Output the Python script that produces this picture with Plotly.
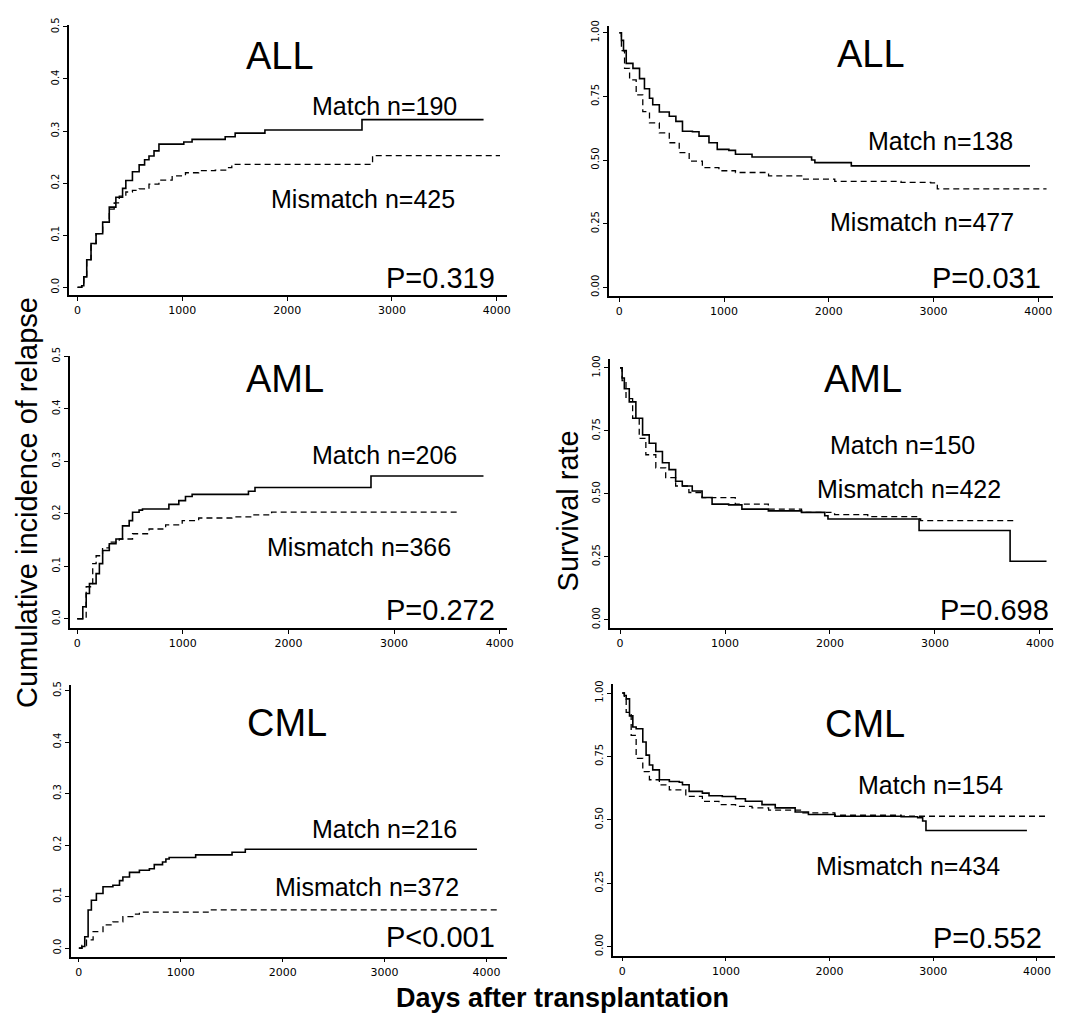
import plotly.graph_objects as go

W, H = 1074, 1019
OFF = 8  # page body margin: page px = figure px + OFF

# ---------------- data ----------------
# ALL - cumulative incidence of relapse
all_cir_match_days = [0, 40, 60, 88, 129, 177, 240, 303, 366, 430, 461, 524, 588, 640, 682, 730, 777, 1014, 1093, 1409, 1504, 1788, 2714, 3874]
all_cir_match_vals = [0, 0.003, 0.02, 0.053, 0.084, 0.103, 0.125, 0.154, 0.173, 0.19, 0.205, 0.222, 0.235, 0.245, 0.252, 0.262, 0.275, 0.279, 0.284, 0.289, 0.296, 0.302, 0.322, 0.322]
all_cir_mis_days = [0, 40, 60, 88, 129, 177, 240, 303, 350, 398, 461, 524, 588, 682, 777, 903, 1030, 1156, 1314, 1441, 1472, 2815, 4031]
all_cir_mis_vals = [0, 0.003, 0.02, 0.053, 0.084, 0.103, 0.125, 0.15, 0.162, 0.175, 0.183, 0.186, 0.189, 0.198, 0.206, 0.214, 0.22, 0.224, 0.225, 0.23, 0.236, 0.253, 0.253]

# ALL - survival
all_os_match_days = [0, 20, 40, 66, 130, 193, 240, 288, 319, 382, 477, 540, 603, 698, 761, 856, 935, 1046, 1109, 1267, 1836, 1867, 2215, 3921]
all_os_match_vals = [1.0, 0.97, 0.93, 0.88, 0.86, 0.82, 0.78, 0.743, 0.717, 0.689, 0.672, 0.652, 0.613, 0.611, 0.594, 0.568, 0.542, 0.538, 0.523, 0.512, 0.50, 0.49, 0.477, 0.477]
all_os_mis_days = [0, 20, 50, 98, 161, 224, 288, 382, 477, 572, 667, 793, 951, 1109, 1425, 1741, 2057, 2689, 2973, 3036, 4079]
all_os_mis_vals = [1.0, 0.93, 0.86, 0.815, 0.756, 0.69, 0.646, 0.607, 0.568, 0.529, 0.496, 0.47, 0.458, 0.451, 0.438, 0.425, 0.416, 0.412, 0.41, 0.387, 0.387]

# AML - cumulative incidence of relapse
aml_cir_match_days = [0, 20, 53, 85, 116, 179, 210, 241, 304, 367, 429, 492, 524, 586, 618, 868, 962, 1025, 1088, 1621, 1683, 2781, 3846]
aml_cir_match_vals = [0, 0.0, 0.023, 0.048, 0.067, 0.086, 0.105, 0.13, 0.143, 0.152, 0.177, 0.187, 0.203, 0.207, 0.209, 0.218, 0.225, 0.233, 0.237, 0.243, 0.25, 0.272, 0.272]
aml_cir_mis_days = [0, 20, 85, 147, 179, 240, 304, 398, 524, 680, 837, 994, 1150, 1464, 1652, 1840, 3627]
aml_cir_mis_vals = [0, 0.0, 0.061, 0.105, 0.12, 0.135, 0.146, 0.152, 0.162, 0.171, 0.179, 0.187, 0.192, 0.194, 0.198, 0.203, 0.203]

# AML - survival
aml_os_match_days = [0, 20, 41, 88, 151, 215, 278, 341, 404, 467, 530, 593, 688, 782, 877, 1035, 1161, 1413, 1729, 1950, 1981, 2849, 3716, 4063]
aml_os_match_vals = [1.0, 0.96, 0.917, 0.865, 0.8, 0.734, 0.701, 0.668, 0.623, 0.596, 0.55, 0.531, 0.511, 0.485, 0.459, 0.456, 0.439, 0.432, 0.426, 0.413, 0.4, 0.354, 0.232, 0.232]
aml_os_mis_days = [0, 20, 57, 120, 183, 246, 341, 435, 530, 656, 782, 1098, 1413, 1729, 2044, 2360, 2833, 2864, 3748]
aml_os_mis_vals = [1.0, 0.95, 0.878, 0.8, 0.72, 0.655, 0.603, 0.564, 0.531, 0.505, 0.485, 0.459, 0.439, 0.426, 0.417, 0.409, 0.4, 0.393, 0.393]

# CML - cumulative incidence of relapse
cml_cir_match_days = [0, 30, 58, 91, 123, 172, 237, 334, 399, 432, 497, 594, 692, 740, 821, 854, 886, 1146, 1503, 1633, 3906]
cml_cir_match_vals = [0, 0.003, 0.022, 0.074, 0.093, 0.106, 0.119, 0.122, 0.131, 0.138, 0.147, 0.151, 0.154, 0.162, 0.167, 0.173, 0.176, 0.181, 0.186, 0.192, 0.192]
cml_cir_mis_days = [0, 30, 75, 140, 237, 334, 432, 529, 594, 1276, 4101]
cml_cir_mis_vals = [0, 0.005, 0.016, 0.032, 0.045, 0.051, 0.061, 0.066, 0.07, 0.074, 0.074]

# CML - survival
cml_os_match_days = [0, 20, 38, 70, 102, 134, 198, 230, 262, 294, 358, 454, 550, 581, 645, 773, 837, 965, 1093, 1188, 1348, 1476, 1668, 1796, 2051, 2690, 2850, 2898, 2930, 3904]
cml_os_match_vals = [1.0, 0.99, 0.977, 0.91, 0.866, 0.859, 0.807, 0.755, 0.716, 0.697, 0.658, 0.651, 0.648, 0.638, 0.612, 0.605, 0.595, 0.592, 0.583, 0.573, 0.56, 0.547, 0.531, 0.521, 0.514, 0.512, 0.508, 0.495, 0.458, 0.458]
cml_os_mis_days = [0, 20, 38, 86, 134, 198, 262, 358, 454, 613, 773, 933, 1093, 1252, 1412, 1732, 2051, 2690, 4096]
cml_os_mis_vals = [1.0, 0.98, 0.924, 0.833, 0.742, 0.69, 0.658, 0.638, 0.618, 0.592, 0.573, 0.56, 0.553, 0.547, 0.538, 0.527, 0.518, 0.514, 0.514]

diseases = ["ALL", "AML", "CML"]
cir_match_n = [190, 206, 216]
cir_mis_n = [425, 366, 372]
cir_p = ["P=0.319", "P=0.272", "P<0.001"]
os_match_n = [138, 150, 154]
os_mis_n = [477, 422, 434]
os_p = ["P=0.031", "P=0.698", "P=0.552"]

x_ticks = [0, 1000, 2000, 3000, 4000]
cir_ticks = [0.0, 0.1, 0.2, 0.3, 0.4, 0.5]
os_ticks = [0.0, 0.25, 0.5, 0.75, 1.0]

# ---------------- layout helpers ----------------
def dx(a, b):
    return [(a - OFF) / W, (b - OFF) / W]

def dy(top, bottom):
    return [1 - (bottom - OFF) / H, 1 - (top - OFF) / H]

def px(xp):
    return (xp - OFF) / W

def py(yp):
    return 1 - (yp - OFF) / H

FONT = "Liberation Sans, Arial, sans-serif"
TICKFONT = "DejaVu Sans, sans-serif"

panels = [
    dict(kind="cir", i=0, xd=(69, 510), yd=(16, 289), xr=[-85, 4095], yr=[-0.0152, 0.5038],
         m=(all_cir_match_days, all_cir_match_vals), mm=(all_cir_mis_days, all_cir_mis_vals),
         t=(1934, 0.445), a=(2929, 0.348), b=(2720, 0.169), p=(4000, 0.017)),
    dict(kind="os", i=0, xd=(613, 1060), yd=(17, 290), xr=[-98, 4142], yr=[-0.035, 1.027],
         m=(all_os_match_days, all_os_match_vals), mm=(all_os_mis_days, all_os_mis_vals),
         t=(2405, 0.918), a=(3071, 0.576), b=(2891, 0.257), p=(4047, 0.035)),
    dict(kind="cir", i=1, xd=(70, 510), yd=(350, 625), xr=[-72, 4066], yr=[-0.0175, 0.5013],
         m=(aml_cir_match_days, aml_cir_match_vals), mm=(aml_cir_mis_days, aml_cir_mis_vals),
         t=(1966, 0.457), a=(2906, 0.3126), b=(2671, 0.1365), p=(3972, 0.017)),
    dict(kind="os", i=1, xd=(614, 1060), yd=(353, 625), xr=[-95, 4126], yr=[-0.033, 1.037],
         m=(aml_os_match_days, aml_os_match_vals), mm=(aml_os_mis_days, aml_os_mis_vals),
         t=(2312, 0.957), a=(2691, 0.695), b=(2754, 0.518), p=(4110, 0.039)),
    dict(kind="cir", i=2, xd=(71, 510), yd=(683, 957), xr=[-81, 4198], yr=[-0.0167, 0.51],
         m=(cml_cir_match_days, cml_cir_match_vals), mm=(cml_cir_mis_days, cml_cir_mis_vals),
         t=(2039, 0.436), a=(3003, 0.231), b=(2831, 0.1186), p=(4101, 0.022)),
    dict(kind="os", i=2, xd=(617, 1062), yd=(682, 956), xr=[-89, 4176], yr=[-0.036, 1.034],
         m=(cml_os_match_days, cml_os_match_vals), mm=(cml_os_mis_days, cml_os_mis_vals),
         t=(2339, 0.879), a=(2978, 0.638), b=(2760, 0.319), p=(4064, 0.033)),
]

fig = go.Figure()
annotations = []
layout = dict(width=W, height=H, margin=dict(l=0, r=0, t=0, b=0),
              paper_bgcolor="white", plot_bgcolor="white", showlegend=False)

for k, pn in enumerate(panels, start=1):
    xa = "x" if k == 1 else f"x{k}"
    ya = "y" if k == 1 else f"y{k}"
    i = pn["i"]
    fig.add_trace(go.Scatter(x=pn["m"][0], y=pn["m"][1], xaxis=xa, yaxis=ya, mode="lines",
                             line=dict(color="black", width=1.6, shape="hv")))
    fig.add_trace(go.Scatter(x=pn["mm"][0], y=pn["mm"][1], xaxis=xa, yaxis=ya, mode="lines",
                             line=dict(color="black", width=1.3, shape="hv", dash="6px,4px")))
    if pn["kind"] == "cir":
        yt, yfmt = cir_ticks, [f"{v:.1f}" for v in cir_ticks]
        mn, mmn, pv = cir_match_n[i], cir_mis_n[i], cir_p[i]
    else:
        yt, yfmt = os_ticks, [f"{v:.2f}" for v in os_ticks]
        mn, mmn, pv = os_match_n[i], os_mis_n[i], os_p[i]
    axkey = "" if k == 1 else str(k)
    layout["xaxis" + axkey] = dict(domain=dx(*pn["xd"]), range=pn["xr"], anchor=ya,
                                   showline=True, linecolor="black", linewidth=1.5,
                                   showgrid=False, zeroline=False, ticks="outside",
                                   ticklen=4, tickwidth=1, tickcolor="black",
                                   tickvals=x_ticks, ticktext=[str(v) for v in x_ticks],
                                   tickfont=dict(family=TICKFONT, size=11, color="black"))
    layout["yaxis" + axkey] = dict(domain=dy(*pn["yd"]), range=pn["yr"], anchor=xa,
                                   showline=True, linecolor="black", linewidth=1.5,
                                   showgrid=False, zeroline=False, ticks="outside",
                                   ticklen=4, tickwidth=1, tickcolor="black",
                                   tickvals=yt, ticktext=yfmt, tickangle=-90,
                                   tickfont=dict(family=TICKFONT, size=10, color="black"))
    annotations.append(dict(x=pn["t"][0], y=pn["t"][1], xref=xa, yref=ya, text=diseases[i],
                            showarrow=False, xanchor="center", yanchor="middle",
                            font=dict(family=FONT, size=38, color="black")))
    annotations.append(dict(x=pn["a"][0], y=pn["a"][1], xref=xa, yref=ya, text=f"Match n={mn}",
                            showarrow=False, xanchor="center", yanchor="middle",
                            font=dict(family=FONT, size=25, color="black")))
    annotations.append(dict(x=pn["b"][0], y=pn["b"][1], xref=xa, yref=ya, text=f"Mismatch n={mmn}",
                            showarrow=False, xanchor="center", yanchor="middle",
                            font=dict(family=FONT, size=25, color="black")))
    annotations.append(dict(x=pn["p"][0], y=pn["p"][1], xref=xa, yref=ya, text=pv,
                            showarrow=False, xanchor="right", yanchor="middle",
                            font=dict(family=FONT, size=29, color="black")))

annotations.append(dict(x=px(27), y=py(498), xref="paper", yref="paper",
                        text="Cumulative incidence of relapse", textangle=-90, showarrow=False,
                        xanchor="center", yanchor="middle", borderpad=0,
                        font=dict(family=FONT, size=29, color="black")))
annotations.append(dict(x=px(572), y=py(507), xref="paper", yref="paper",
                        text="Survival rate", textangle=-90, showarrow=False,
                        xanchor="center", yanchor="middle",
                        font=dict(family=FONT, size=29, color="black")))
annotations.append(dict(x=px(566), y=py(999), xref="paper", yref="paper",
                        text="<b>Days after transplantation</b>", showarrow=False,
                        xanchor="center", yanchor="middle",
                        font=dict(family=FONT, size=27, color="black")))

layout["annotations"] = annotations
fig.update_layout(**layout)
fig.write_html("out.html")
